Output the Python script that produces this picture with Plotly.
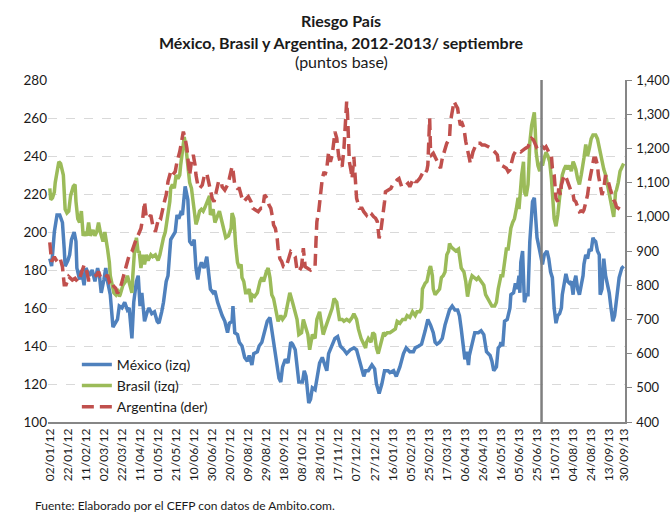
import plotly.graph_objects as go

# ---------------- data ----------------
mexico_dates = [
 "2012-01-02","2012-01-04","2012-01-07","2012-01-10","2012-01-13","2012-01-16","2012-01-18","2012-01-19","2012-01-22","2012-01-24",
 "2012-01-26","2012-01-29","2012-01-31","2012-02-01","2012-02-04","2012-02-06","2012-02-09","2012-02-11","2012-02-15","2012-02-18",
 "2012-02-21","2012-02-24","2012-02-26","2012-02-28","2012-03-02","2012-03-04","2012-03-06","2012-03-09","2012-03-12","2012-03-14",
 "2012-03-17","2012-03-19","2012-03-22","2012-03-25","2012-03-28","2012-03-30","2012-04-02","2012-04-04","2012-04-07","2012-04-09",
 "2012-04-11","2012-04-13","2012-04-16","2012-04-19","2012-04-21","2012-04-24","2012-04-27","2012-04-30","2012-05-02","2012-05-05",
 "2012-05-07","2012-05-10","2012-05-12","2012-05-15","2012-05-17","2012-05-20","2012-05-22","2012-05-24","2012-05-26","2012-05-28",
 "2012-05-31","2012-06-03","2012-06-05","2012-06-08","2012-06-10","2012-06-12","2012-06-14","2012-06-16","2012-06-18","2012-06-21",
 "2012-06-24","2012-06-26","2012-06-28","2012-07-01","2012-07-03","2012-07-06","2012-07-08","2012-07-11","2012-07-14","2012-07-17",
 "2012-07-19","2012-07-22","2012-07-23","2012-07-25","2012-07-28","2012-07-30","2012-08-02","2012-08-05","2012-08-08","2012-08-10",
 "2012-08-13","2012-08-15","2012-08-19","2012-08-21","2012-08-24","2012-08-27","2012-08-30","2012-09-02","2012-09-05","2012-09-08",
 "2012-09-10","2012-09-12","2012-09-14","2012-09-16","2012-09-19","2012-09-22","2012-09-25","2012-09-27","2012-09-30","2012-10-04",
 "2012-10-08","2012-10-10","2012-10-12","2012-10-15","2012-10-17","2012-10-19","2012-10-22","2012-10-24","2012-10-27","2012-10-30",
 "2012-11-02","2012-11-04","2012-11-06","2012-11-10","2012-11-13","2012-11-16","2012-11-19","2012-11-23","2012-11-26","2012-11-30",
 "2012-12-04","2012-12-07","2012-12-11","2012-12-15","2012-12-17","2012-12-20","2012-12-24","2012-12-27","2012-12-29","2013-01-01",
 "2013-01-04","2013-01-07","2013-01-11","2013-01-13","2013-01-17","2013-01-20","2013-01-24","2013-01-28","2013-01-31","2013-02-04",
 "2013-02-08","2013-02-10","2013-02-14","2013-02-17","2013-02-21","2013-02-24","2013-02-27","2013-03-02","2013-03-04","2013-03-06",
 "2013-03-09","2013-03-12","2013-03-15","2013-03-17","2013-03-20","2013-03-23","2013-03-26","2013-03-29","2013-03-31","2013-04-02",
 "2013-04-04","2013-04-06","2013-04-08","2013-04-10","2013-04-11","2013-04-13","2013-04-15","2013-04-17","2013-04-21","2013-04-24",
 "2013-04-27","2013-04-30","2013-05-04","2013-05-06","2013-05-08","2013-05-11","2013-05-13","2013-05-15","2013-05-16","2013-05-18",
 "2013-05-20","2013-05-23","2013-05-26","2013-05-27","2013-05-30","2013-06-01","2013-06-03","2013-06-05","2013-06-06","2013-06-07",
 "2013-06-09","2013-06-10","2013-06-11","2013-06-13","2013-06-15","2013-06-17","2013-06-19","2013-06-20","2013-06-22","2013-06-24",
 "2013-06-25","2013-06-28","2013-06-30","2013-07-01","2013-07-03","2013-07-06","2013-07-08","2013-07-10","2013-07-12","2013-07-14",
 "2013-07-16","2013-07-18","2013-07-20","2013-07-22","2013-07-23","2013-07-25","2013-07-27","2013-07-29","2013-07-31","2013-08-02",
 "2013-08-04","2013-08-05","2013-08-07","2013-08-09","2013-08-11","2013-08-13","2013-08-15","2013-08-16","2013-08-18","2013-08-20",
 "2013-08-22","2013-08-24","2013-08-26","2013-08-27","2013-08-29","2013-08-31","2013-09-02","2013-09-03","2013-09-05","2013-09-06",
 "2013-09-07","2013-09-09","2013-09-11","2013-09-13","2013-09-15","2013-09-17","2013-09-19","2013-09-20","2013-09-22","2013-09-24",
 "2013-09-27","2013-09-29"]
mexico = [
 186,182,200,209,209,205,191,182,185,188, 196,200,195,181,175,180,172,181,177,180,
 174,181,177,168,175,181,174,167,150,152, 154,161,160,163,159,160,144,163,174,177,
 161,168,153,158,160,157,158,153,152,158, 163,174,177,196,198,200,209,207,210,209,
 224,217,195,193,196,181,175,181,184,181, 187,179,170,168,169,163,160,156,153,147,
 152,153,161,147,146,142,140,134,132,135, 130,136,137,140,142,147,153,155,146,136,
 130,123,121,129,133,131,142,141,138,121, 121,127,124,110,112,118,117,123,131,134,
 130,127,136,141,144,145,140,138,136,138, 139,138,131,124,127,127,130,128,120,115,
 120,127,127,126,127,124,129,136,139,137, 137,139,140,141,148,154,151,147,142,141,
 142,144,151,154,159,161,159,159,156,149, 142,133,137,130,135,139,144,147,147,148,
 146,137,135,132,127,129,139,140,142,140, 153,154,160,167,168,173,170,177,168,184,
 190,174,163,167,167,195,209,216,218,207, 197,190,184,183,188,190,186,179,176,160,
 152,156,157,160,167,174,178,174,173,174, 167,173,177,170,167,172,177,183,188,186,
 191,190,197,196,195,190,188,167,170,179, 186,177,172,168,160,153,156,160,168,176,
 181,182]

brasil_dates = [
 "2012-01-02","2012-01-03","2012-01-05","2012-01-07","2012-01-08","2012-01-10","2012-01-12","2012-01-14","2012-01-17","2012-01-19",
 "2012-01-21","2012-01-23","2012-01-25","2012-01-28","2012-01-30","2012-01-31","2012-02-02","2012-02-04","2012-02-06","2012-02-08",
 "2012-02-10","2012-02-12","2012-02-14","2012-02-16","2012-02-19","2012-02-21","2012-02-23","2012-02-25","2012-02-27","2012-03-01",
 "2012-03-03","2012-03-06","2012-03-08","2012-03-09","2012-03-11","2012-03-13","2012-03-15","2012-03-17","2012-03-19","2012-03-20",
 "2012-03-23","2012-03-26","2012-03-28","2012-03-30","2012-04-02","2012-04-03","2012-04-05","2012-04-07","2012-04-09","2012-04-10",
 "2012-04-12","2012-04-14","2012-04-16","2012-04-18","2012-04-20","2012-04-23","2012-04-25","2012-04-28","2012-05-01","2012-05-03",
 "2012-05-05","2012-05-07","2012-05-09","2012-05-12","2012-05-14","2012-05-15","2012-05-17","2012-05-19","2012-05-21","2012-05-23",
 "2012-05-25","2012-05-26","2012-05-28","2012-05-30","2012-06-01","2012-06-03","2012-06-05","2012-06-07","2012-06-10","2012-06-12",
 "2012-06-14","2012-06-16","2012-06-18","2012-06-20","2012-06-22","2012-06-25","2012-06-27","2012-06-28","2012-07-01","2012-07-03",
 "2012-07-06","2012-07-08","2012-07-11","2012-07-13","2012-07-15","2012-07-18","2012-07-21","2012-07-22","2012-07-24","2012-07-26",
 "2012-07-28","2012-07-30","2012-08-01","2012-08-02","2012-08-04","2012-08-06","2012-08-08","2012-08-10","2012-08-12","2012-08-13",
 "2012-08-16","2012-08-19","2012-08-22","2012-08-24","2012-08-26","2012-08-29","2012-08-31","2012-09-02","2012-09-04","2012-09-06",
 "2012-09-09","2012-09-11","2012-09-14","2012-09-16","2012-09-19","2012-09-22","2012-09-24","2012-09-27","2012-09-30","2012-10-02",
 "2012-10-04","2012-10-07","2012-10-09","2012-10-12","2012-10-14","2012-10-16","2012-10-19","2012-10-22","2012-10-24","2012-10-27",
 "2012-10-29","2012-10-31","2012-11-02","2012-11-05","2012-11-08","2012-11-10","2012-11-12","2012-11-15","2012-11-16","2012-11-18",
 "2012-11-21","2012-11-23","2012-11-26","2012-11-29","2012-12-02","2012-12-04","2012-12-07","2012-12-09","2012-12-12","2012-12-14",
 "2012-12-17","2012-12-18","2012-12-20","2012-12-23","2012-12-25","2012-12-27","2012-12-29","2012-12-31","2013-01-02","2013-01-04",
 "2013-01-06","2013-01-08","2013-01-10","2013-01-13","2013-01-16","2013-01-19","2013-01-21","2013-01-24","2013-01-27","2013-01-30",
 "2013-02-01","2013-02-04","2013-02-07","2013-02-10","2013-02-12","2013-02-15","2013-02-17","2013-02-18","2013-02-21","2013-02-23",
 "2013-02-26","2013-02-27","2013-03-01","2013-03-02","2013-03-04","2013-03-06","2013-03-09","2013-03-11","2013-03-13","2013-03-15",
 "2013-03-17","2013-03-19","2013-03-20","2013-03-22","2013-03-24","2013-03-27","2013-03-30","2013-03-31","2013-04-02","2013-04-05",
 "2013-04-07","2013-04-09","2013-04-11","2013-04-12","2013-04-14","2013-04-16","2013-04-19","2013-04-21","2013-04-24","2013-04-27",
 "2013-04-29","2013-05-01","2013-05-04","2013-05-06","2013-05-09","2013-05-11","2013-05-13","2013-05-15","2013-05-16","2013-05-18",
 "2013-05-20","2013-05-22","2013-05-24","2013-05-26","2013-05-27","2013-05-29","2013-05-31","2013-06-02","2013-06-04","2013-06-05",
 "2013-06-07","2013-06-08","2013-06-10","2013-06-11","2013-06-13","2013-06-15","2013-06-16","2013-06-17","2013-06-19","2013-06-21",
 "2013-06-22","2013-06-23","2013-06-24","2013-06-26","2013-06-28","2013-06-30","2013-07-01","2013-07-03","2013-07-05","2013-07-07",
 "2013-07-09","2013-07-11","2013-07-12","2013-07-14","2013-07-16","2013-07-18","2013-07-20","2013-07-22","2013-07-23","2013-07-25",
 "2013-07-27","2013-07-29","2013-07-31","2013-08-02","2013-08-04","2013-08-05","2013-08-07","2013-08-09","2013-08-11","2013-08-13",
 "2013-08-15","2013-08-16","2013-08-18","2013-08-20","2013-08-22","2013-08-24","2013-08-26","2013-08-27","2013-08-29","2013-08-31",
 "2013-09-02","2013-09-04","2013-09-06","2013-09-07","2013-09-09","2013-09-11","2013-09-13","2013-09-15","2013-09-17","2013-09-18",
 "2013-09-20","2013-09-21","2013-09-23","2013-09-25","2013-09-29"]
brasil = [
 223,217,218,221,226,233,237,236,230,212, 210,211,219,224,225,216,207,205,211,198,
 200,198,205,198,201,198,200,205,200,195, 200,191,184,177,172,168,167,170,166,167,
 172,174,177,174,168,177,191,197,189,190, 181,188,183,188,185,188,187,188,185,188,
 193,197,200,209,216,223,225,223,230,228, 230,235,242,250,244,235,226,223,212,204,
 207,211,212,211,213,216,219,209,212,205, 209,211,205,200,197,198,202,210,207,193,
 184,181,183,176,174,168,168,170,163,167, 166,168,174,176,174,179,181,176,167,165,
 158,153,156,154,156,163,168,163,158,154, 146,147,154,149,146,138,146,144,154,158,
 153,146,149,153,156,160,165,163,160,154, 154,153,154,153,155,157,154,149,144,142,
 139,142,144,142,147,146,139,136,140,144, 147,146,147,147,148,149,153,152,154,154,
 156,155,158,156,158,158,160,170,173,174, 181,182,177,170,167,168,170,176,177,179,
 188,190,194,192,191,190,191,187,181,179, 174,166,172,174,177,176,175,176,174,172,
 167,165,162,161,161,163,170,176,177,177, 184,191,191,198,202,205,207,212,218,212,
 225,230,237,221,219,225,235,247,256,261, 263,254,242,235,232,237,235,239,242,240,
 237,228,221,207,203,209,218,225,230,233, 235,233,235,232,237,236,233,228,225,230,
 235,239,246,240,244,249,251,251,251,249, 244,239,235,233,230,225,221,216,209,208,
 221,222,226,232,236]

argentina_dates = [
 "2012-01-02","2012-01-03","2012-01-04","2012-01-07","2012-01-09","2012-01-13","2012-01-16","2012-01-18","2012-01-20","2012-01-23",
 "2012-01-27","2012-01-30","2012-02-02","2012-02-04","2012-02-07","2012-02-09","2012-02-12","2012-02-14","2012-02-17","2012-02-20",
 "2012-02-23","2012-02-25","2012-02-27","2012-03-01","2012-03-03","2012-03-06","2012-03-08","2012-03-10","2012-03-13","2012-03-15",
 "2012-03-17","2012-03-20","2012-03-23","2012-03-25","2012-03-27","2012-03-29","2012-03-30","2012-04-02","2012-04-04","2012-04-07",
 "2012-04-09","2012-04-12","2012-04-14","2012-04-16","2012-04-18","2012-04-20","2012-04-23","2012-04-25","2012-04-28","2012-05-01",
 "2012-05-02","2012-05-04","2012-05-06","2012-05-08","2012-05-10","2012-05-12","2012-05-15","2012-05-17","2012-05-20","2012-05-22",
 "2012-05-25","2012-05-27","2012-05-29","2012-05-31","2012-06-02","2012-06-03","2012-06-05","2012-06-07","2012-06-09","2012-06-11",
 "2012-06-12","2012-06-14","2012-06-16","2012-06-19","2012-06-21","2012-06-24","2012-06-26","2012-06-27","2012-06-30","2012-07-02",
 "2012-07-04","2012-07-07","2012-07-10","2012-07-11","2012-07-14","2012-07-17","2012-07-19","2012-07-22","2012-07-23","2012-07-25",
 "2012-07-28","2012-07-30","2012-08-02","2012-08-04","2012-08-07","2012-08-09","2012-08-12","2012-08-14","2012-08-17","2012-08-20",
 "2012-08-23","2012-08-25","2012-08-27","2012-08-30","2012-09-01","2012-09-03","2012-09-05","2012-09-06","2012-09-08","2012-09-10",
 "2012-09-11","2012-09-13","2012-09-15","2012-09-17","2012-09-20","2012-09-22","2012-09-25","2012-09-27","2012-09-30","2012-10-02",
 "2012-10-04","2012-10-07","2012-10-09","2012-10-11","2012-10-14","2012-10-17","2012-10-19","2012-10-22","2012-10-23","2012-10-24",
 "2012-10-26","2012-10-28","2012-10-30","2012-11-01","2012-11-02","2012-11-04","2012-11-06","2012-11-08","2012-11-10","2012-11-12",
 "2012-11-13","2012-11-15","2012-11-17","2012-11-19","2012-11-21","2012-11-23","2012-11-24","2012-11-25","2012-11-26","2012-11-27",
 "2012-11-28","2012-11-29","2012-12-01","2012-12-02","2012-12-04","2012-12-05","2012-12-06","2012-12-07","2012-12-10","2012-12-13",
 "2012-12-15","2012-12-18","2012-12-20","2012-12-23","2012-12-26","2012-12-28","2012-12-30","2013-01-01","2013-01-03","2013-01-05",
 "2013-01-07","2013-01-08","2013-01-11","2013-01-14","2013-01-16","2013-01-19","2013-01-21","2013-01-23","2013-01-26","2013-01-29",
 "2013-01-31","2013-02-02","2013-02-04","2013-02-06","2013-02-08","2013-02-10","2013-02-12","2013-02-15","2013-02-17","2013-02-19",
 "2013-02-21","2013-02-23","2013-02-24","2013-02-25","2013-02-26","2013-02-27","2013-02-28","2013-03-02","2013-03-04","2013-03-06",
 "2013-03-09","2013-03-10","2013-03-12","2013-03-15","2013-03-17","2013-03-20","2013-03-21","2013-03-23","2013-03-25","2013-03-27",
 "2013-03-29","2013-03-30","2013-04-01","2013-04-03","2013-04-05","2013-04-07","2013-04-09","2013-04-11","2013-04-12","2013-04-14",
 "2013-04-15","2013-04-19","2013-04-23","2013-04-25","2013-04-28","2013-05-02","2013-05-05","2013-05-09","2013-05-12","2013-05-13",
 "2013-05-16","2013-05-19","2013-05-22","2013-05-24","2013-05-26","2013-05-28","2013-05-30","2013-06-01","2013-06-04","2013-06-07",
 "2013-06-09","2013-06-12","2013-06-15","2013-06-17","2013-06-19","2013-06-21","2013-06-23","2013-06-25","2013-06-28","2013-06-30",
 "2013-07-01","2013-07-03","2013-07-05","2013-07-07","2013-07-09","2013-07-11","2013-07-12","2013-07-14","2013-07-15","2013-07-16",
 "2013-07-18","2013-07-19","2013-07-21","2013-07-22","2013-07-24","2013-07-25","2013-07-27","2013-07-29","2013-07-31","2013-08-02",
 "2013-08-04","2013-08-05","2013-08-07","2013-08-09","2013-08-11","2013-08-13","2013-08-15","2013-08-16","2013-08-18","2013-08-20",
 "2013-08-22","2013-08-24","2013-08-26","2013-08-27","2013-08-29","2013-08-31","2013-09-01","2013-09-03","2013-09-05","2013-09-07",
 "2013-09-09","2013-09-10","2013-09-12","2013-09-14","2013-09-16","2013-09-18","2013-09-20","2013-09-21","2013-09-23","2013-09-25",
 "2013-09-29"]
argentina = [
 925,898,869,883,874,883,854,801,801,825, 815,820,810,820,840,859,840,815,815,825,
 830,840,825,820,820,830,810,815,796,791, 776,791,820,840,859,883,888,898,917,937,
 947,966,996,1044,996,996,1005,976,956,986, 1000,996,1025,1044,1064,1103,1132,1122,1132,1161,
 1190,1229,1249,1229,1200,1171,1122,1161,1181,1151, 1122,1093,1083,1093,1117,1127,1103,1083,1054,1044,
 1073,1103,1103,1088,1078,1093,1112,1147,1137,1093, 1083,1083,1054,1044,1054,1059,1044,1025,1020,1015,
 1025,1025,1064,1054,1034,1025,996,976,966,937, 908,878,869,854,854,874,898,893,883,844,
 840,854,908,854,849,844,849,854,927,986, 1015,1073,1112,1132,1122,1142,1190,1161,1181,1225,
 1249,1230,1181,1156,1147,1200,1259,1298,1337,1298, 1239,1161,1132,1112,1175,1122,1073,1054,1025,1025,
 1015,1005,1015,1010,1000,996,986,937,961,996, 1044,1073,1078,1083,1093,1103,1108,1112,1088,1088,
 1093,1098,1088,1103,1112,1103,1103,1112,1122,1132, 1127,1137,1151,1220,1288,1190,1181,1186,1176,1161,
 1147,1142,1171,1195,1215,1229,1278,1307,1337,1327, 1317,1298,1268,1273,1259,1220,1200,1171,1156,1181,
 1190,1215,1215,1210,1210,1205,1200,1190,1181,1161, 1151,1147,1142,1132,1137,1161,1181,1190,1195,1190,
 1195,1200,1205,1220,1229,1225,1210,1200,1195,1205, 1205,1200,1205,1195,1181,1176,1142,1122,1083,1054,
 1044,1083,1064,1093,1112,1122,1117,1103,1083,1073, 1064,1049,1044,1025,1015,1017,1015,1020,1044,1064,
 1103,1132,1161,1171,1171,1151,1122,1093,1064,1083, 1122,1112,1103,1083,1064,1049,1039,1029,1025,1034,
 1039]

tick_dates = ["2012-01-02","2012-01-22","2012-02-11","2012-03-02","2012-03-22","2012-04-11","2012-05-01",
              "2012-05-21","2012-06-10","2012-06-30","2012-07-20","2012-08-09","2012-08-29","2012-09-18",
              "2012-10-08","2012-10-28","2012-11-17","2012-12-07","2012-12-27","2013-01-16","2013-02-05",
              "2013-02-25","2013-03-17","2013-04-06","2013-04-26","2013-05-16","2013-06-05","2013-06-25",
              "2013-07-15","2013-08-04","2013-08-24","2013-09-13","2013-09-30"]
tick_labels = ["02/01/12","22/01/12","11/02/12","02/03/12","22/03/12","11/04/12","01/05/12",
               "21/05/12","10/06/12","30/06/12","20/07/12","09/08/12","29/08/12","18/09/12",
               "08/10/12","28/10/12","17/11/12","07/12/12","27/12/12","16/01/13","05/02/13",
               "25/02/13","17/03/13","06/04/13","26/04/13","16/05/13","05/06/13","25/06/13",
               "15/07/13","04/08/13","24/08/13","13/09/13","30/09/13"]
marker_date = "2013-06-30"

# ---------------- figure ----------------
FONT = "Lato, 'Open Sans', sans-serif"
TXT = "#1a1a1a"
AXC = "#868686"
LW = 3.5

fig = go.Figure()
fig.add_trace(go.Scatter(x=mexico_dates, y=mexico, name="México (izq)", mode="lines",
                         line=dict(color="#4F81BD", width=LW)))
fig.add_trace(go.Scatter(x=brasil_dates, y=brasil, name="Brasil (izq)", mode="lines",
                         line=dict(color="#9BBB59", width=LW)))
fig.add_trace(go.Scatter(x=argentina_dates, y=argentina, name="Argentina (der)", mode="lines",
                         yaxis="y2", line=dict(color="#C0504D", width=LW, dash="12px,6px")))

fig.add_shape(type="line", xref="x", yref="paper", x0=marker_date, x1=marker_date, y0=0, y1=1,
              line=dict(color="#7F7F7F", width=2.5), layer="above")

fig.update_layout(
    width=672, height=512,
    margin=dict(l=48, r=47, t=80, b=90, autoexpand=False),
    paper_bgcolor="white", plot_bgcolor="white",
    font=dict(family=FONT, size=13, color=TXT),
    showlegend=True,
    legend=dict(x=0.05, y=0.214, xanchor="left", yanchor="top",
                bgcolor="rgba(0,0,0,0)", font=dict(size=14, color=TXT),
                tracegroupgap=0),
    xaxis=dict(type="date", range=["2011-12-31", "2013-09-30 12:00"], automargin=False,
               tickmode="array", tickvals=tick_dates, ticktext=tick_labels,
               tickangle=-90, tickfont=dict(size=12, color=TXT),
               showgrid=False, zeroline=False, showline=True, linecolor=AXC, linewidth=1.5,
               ticks=""),
    yaxis=dict(range=[100, 280], dtick=20, tick0=100, showgrid=True, automargin=False,
               gridcolor="#D9D9D9", griddash="dash", gridwidth=1,
               zeroline=False, showline=False, ticks="", ticklen=0,
               tickfont=dict(size=13.5, color=TXT)),
    yaxis2=dict(range=[400, 1400], dtick=100, tick0=400, overlaying="y", side="right",
                automargin=False,
                showgrid=False, zeroline=False, showline=True, linecolor=AXC, linewidth=1.5,
                ticks="outside", ticklen=5, tickcolor=AXC, tickformat=",d",
                ticklabelstandoff=2, tickfont=dict(size=13, color=TXT)),
    annotations=[
        dict(text="<b>Riesgo País</b>", xref="paper", yref="paper", x=0.508, y=1.175,
             showarrow=False, font=dict(size=16, color=TXT), xanchor="center", yanchor="middle"),
        dict(text="<b>México, Brasil y Argentina, 2012-2013/ septiembre</b>", xref="paper", yref="paper",
             x=0.508, y=1.111, showarrow=False, font=dict(size=16, color=TXT),
             xanchor="center", yanchor="middle"),
        dict(text="(puntos base)", xref="paper", yref="paper", x=0.508, y=1.053,
             showarrow=False, font=dict(size=16, color=TXT), xanchor="center", yanchor="middle"),
        dict(text="Fuente: Elaborado por el CEFP con datos de Ambito.com.", xref="paper", yref="paper",
             x=-0.026, y=-0.243, showarrow=False, font=dict(size=12, color=TXT),
             xanchor="left", yanchor="middle"),
    ],
)

# the page is photographed from its top-left corner: remove the browser's default body margin
fig.write_html("out.html", config={"displayModeBar": False},
               post_script="document.body.style.margin='0';")
